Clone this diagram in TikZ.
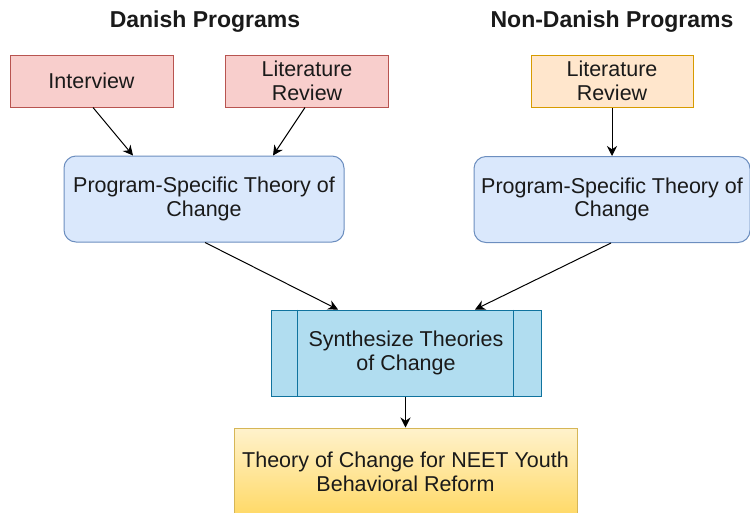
\documentclass[tikz,border=0pt]{standalone}
\usepackage{fontspec}
\setmainfont{Liberation Sans}
\usetikzlibrary{arrows.meta}
\definecolor{redfill}{HTML}{F8CECC}
\definecolor{redline}{HTML}{B85450}
\definecolor{orangefill}{HTML}{FFE6CC}
\definecolor{orangeline}{HTML}{D79B00}
\definecolor{bluefill}{HTML}{DAE8FC}
\definecolor{blueline}{HTML}{6C8EBF}
\definecolor{synthfill}{HTML}{B1DDF0}
\definecolor{synthline}{HTML}{10739E}
\definecolor{goldtop}{HTML}{FFF2CC}
\definecolor{goldbottom}{HTML}{FFD966}
\definecolor{goldline}{HTML}{D6B656}
\definecolor{inktext}{HTML}{1A1A1A}
\begin{document}
\begin{tikzpicture}[x=1pt,y=-1pt,
  every node/.style={font=\fontsize{21.5}{23.5}\selectfont, text=inktext, align=center, inner sep=0pt},
  heading/.style={font=\fontsize{23}{25}\selectfont\bfseries},
  sourcebox/.style={draw=redline, fill=redfill, line width=1pt, minimum width=163, minimum height=52},
  otherbox/.style={draw=orangeline, fill=orangefill, line width=1pt, minimum width=162, minimum height=52},
  theorybox/.style={draw=blueline, fill=bluefill, line width=1pt, rounded corners=12pt, minimum height=86},
  synthbox/.style={draw=synthline, fill=synthfill, line width=1pt, minimum width=270, minimum height=86},
  resultbox/.style={draw=goldline, top color=goldtop, bottom color=goldbottom, line width=1pt, minimum width=343, minimum height=88},
  flow/.style={draw=black, line width=1pt, -{Stealth[length=10pt,width=10pt]}}
]
\useasboundingbox (0,0) rectangle (750,512);

% column headings
\node[heading] (hdan) at (205,22) {Danish Programs};
\node[heading] (hnon) at (612,22) {Non-Danish Programs};

% information sources
\node[sourcebox] (interview) at (91.5,81) {Interview};
\node[sourcebox] (litdan) at (307,81) {Literature\\Review};
\node[otherbox] (litnon) at (612,81) {Literature\\Review};

% program-specific theories
\node[theorybox, minimum width=280] (tocdan) at (204,199) {Program-Specific Theory of\\Change};
\node[theorybox, minimum width=276] (tocnon) at (612,199.5) {Program-Specific Theory of\\Change};

% synthesis step (process shape with side bars)
\node[synthbox] (synth) at (406,353) {Synthesize Theories\\of Change};
\draw[synthline, line width=1pt] ([xshift=26.7]synth.north west) -- ([xshift=26.7]synth.south west);
\draw[synthline, line width=1pt] ([xshift=-28]synth.north east) -- ([xshift=-28]synth.south east);

% final result
\node[resultbox] (result) at (405.5,472) {Theory of Change for NEET Youth\\Behavioral Reform};

% connectors
\draw[flow] ([xshift=1.5]interview.south) -- ([xshift=-71]tocdan.north);
\draw[flow] ([xshift=-2]litdan.south) -- ([xshift=69]tocdan.north);
\draw[flow] (litnon.south) -- (tocnon.north);
\draw[flow] ([xshift=1]tocdan.south) -- ([xshift=-68]synth.north);
\draw[flow] ([xshift=-1]tocnon.south) -- ([xshift=69]synth.north);
\draw[flow] ([xshift=-0.5]synth.south) -- (result.north);
\end{tikzpicture}
\end{document}
